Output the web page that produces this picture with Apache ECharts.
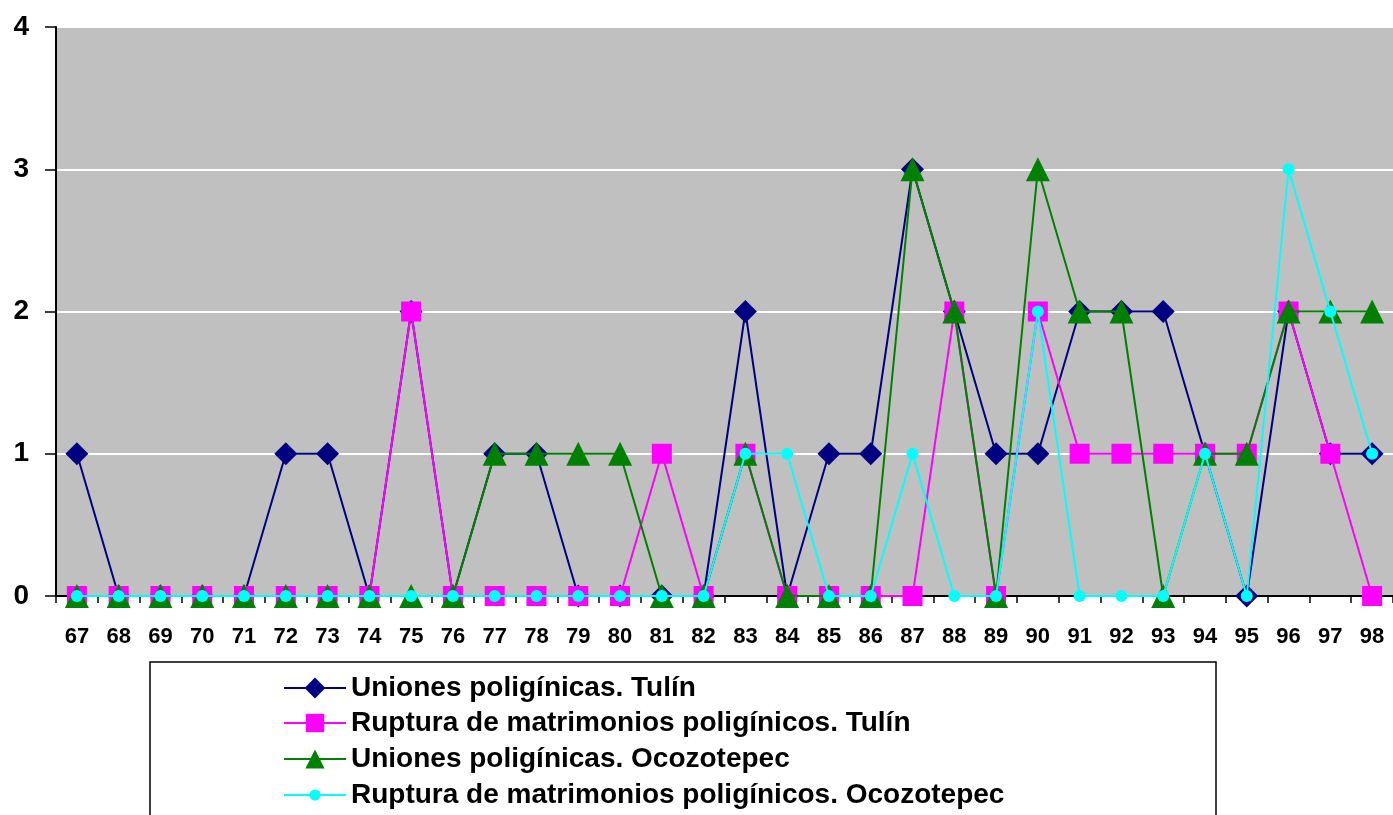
<!DOCTYPE html>
<html>
<head>
<meta charset="utf-8">
<script src="https://cdn.jsdelivr.net/npm/echarts@6/dist/echarts.min.js"></script>
<style>
html,body{margin:0;padding:0;background:#fff;}
#chart{width:1393px;height:815px;}
</style>
</head>
<body>
<div id="chart"></div>
<script>
const categories = ['67','68','69','70','71','72','73','74','75','76','77','78','79','80','81','82','83','84','85','86','87','88','89','90','91','92','93','94','95','96','97','98'];
const unionesTulin = [1,0,0,0,0,1,1,0,2,0,1,1,0,0,0,0,2,0,1,1,3,2,1,1,2,2,2,1,0,2,1,1];
const rupturaTulin = [0,0,0,0,0,0,0,0,2,0,0,0,0,0,1,0,1,0,0,0,0,2,0,2,1,1,1,1,1,2,1,0];
const unionesOcozotepec = [0,0,0,0,0,0,0,0,0,0,1,1,1,1,0,0,1,0,0,0,3,2,0,3,2,2,0,1,1,2,2,2];
const rupturaOcozotepec = [0,0,0,0,0,0,0,0,0,0,0,0,0,0,0,0,1,1,0,0,1,0,0,2,0,0,0,1,0,3,2,1];
const yTicks = [0,1,2,3,4];
const seriesNames = ['Uniones poligínicas. Tulín','Ruptura de matrimonios poligínicos. Tulín','Uniones poligínicas. Ocozotepec','Ruptura de matrimonios poligínicos. Ocozotepec'];

const font = 'Arial, "Liberation Sans", sans-serif';
const chart = echarts.init(document.getElementById('chart'));

function mkLegend(i, top, ih){
  return {
    orient:'vertical', left:283, top:top, data:[seriesNames[i]],
    itemWidth:62, itemHeight:ih, itemGap:0, padding:0, selectedMode:false,
    textStyle:{fontFamily:font, fontWeight:'bold', fontSize:28, color:'#000', lineHeight:34, padding:[0,0,0,0]}
  };
}

const palette = ['#000080','#FF00FF','#008000','#00FFFF'];
const symbols = ['diamond','rect','triangle','circle'];
const sizes = [23,20,24,12];
const data = [unionesTulin, rupturaTulin, unionesOcozotepec, rupturaOcozotepec];

chart.setOption({
  animation:false,
  backgroundColor:'#fff',
  grid:{left:56, top:27, right:-6, bottom:219, show:true, backgroundColor:'#C0C0C0', borderWidth:0},
  graphic:[{type:'rect', shape:{x:150, y:662, width:1066, height:170}, style:{fill:'#fff', stroke:'#000', lineWidth:1.5}, z:-1}],
  legend:[mkLegend(0,671,26), mkLegend(1,706,23), mkLegend(2,742,24), mkLegend(3,778,14)],
  xAxis:{
    type:'category', data:categories, boundaryGap:true,
    axisLine:{lineStyle:{color:'#000', width:2}},
    axisTick:{show:true, length:7, lineStyle:{color:'#000', width:1.5}},
    axisLabel:{fontFamily:font, fontWeight:'bold', fontSize:22, color:'#000', margin:30, interval:0},
    splitLine:{show:false}
  },
  yAxis:{
    type:'value', min:0, max:4, interval:1,
    axisLine:{show:true, lineStyle:{color:'#000', width:2}},
    axisTick:{show:true, length:11, lineStyle:{color:'#000', width:1.5}},
    axisLabel:{fontFamily:font, fontWeight:'bold', fontSize:28, color:'#000', margin:27,
      formatter:function(v){return yTicks.indexOf(v)>=0 ? String(v) : '';}},
    splitLine:{show:true, lineStyle:{color:'#fff', width:2}}
  },
  series: data.map(function(d,i){
    return {
      name:seriesNames[i], type:'line', data:d,
      symbol:symbols[i], symbolSize:sizes[i], showAllSymbol:true,
      lineStyle:{color:palette[i], width:2},
      itemStyle:{color:palette[i], borderWidth:0},
      emphasis:{disabled:true},
      z:2+i
    };
  })
});
</script>
</body>
</html>
